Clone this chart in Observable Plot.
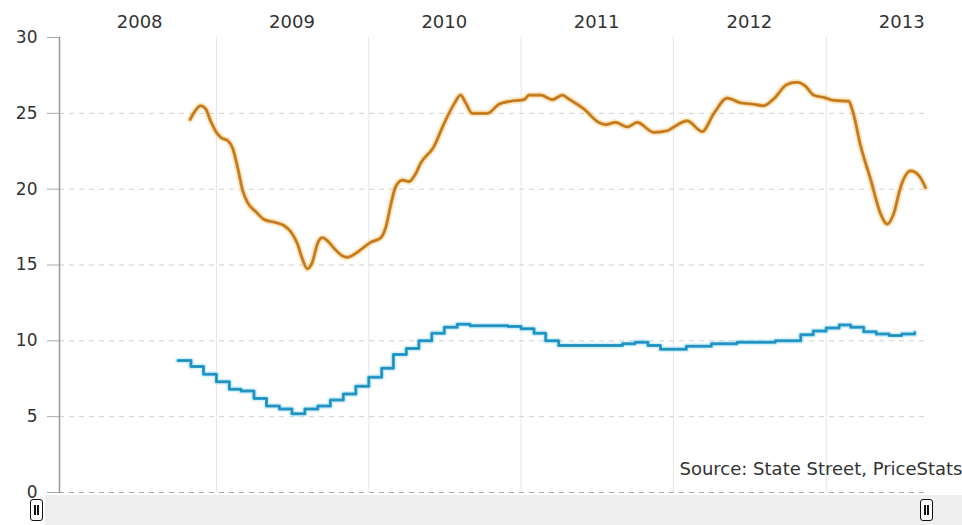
<!DOCTYPE html>
<html><head><meta charset="utf-8">
<script src="https://cdn.jsdelivr.net/npm/d3@7"></script>
<script src="https://cdn.jsdelivr.net/npm/@observablehq/plot@0.6"></script>
<style>
html,body{margin:0;padding:0;background:#fff;}
#wrap{position:relative;width:962px;height:525px;overflow:hidden;}
.bar{position:absolute;left:45px;top:495px;width:917px;height:30px;background:#eeeeee;}
.handle{position:absolute;width:11px;height:20px;border:1.6px solid #111;border-radius:3px;background:#fff;}
.handle::before,.handle::after{content:"";position:absolute;top:5px;height:10px;width:1.5px;background:#111;}
.handle::before{left:3px}.handle::after{left:6.2px}
</style></head><body><div id="wrap"></div>
<script>
// PriceStats inflation (orange), % year on year
const orangeDates = ["2008-10-30","2008-11-12","2008-11-24","2008-12-06","2008-12-18","2009-01-01","2009-01-12","2009-01-28","2009-02-09","2009-02-21","2009-03-05","2009-03-17","2009-04-06","2009-04-25","2009-05-23","2009-06-12","2009-06-28","2009-07-14","2009-07-26","2009-08-07","2009-08-19","2009-08-31","2009-09-12","2009-09-24","2009-10-10","2009-10-30","2009-11-11","2009-11-27","2009-12-17","2010-01-06","2010-01-30","2010-02-11","2010-02-23","2010-03-07","2010-03-23","2010-04-07","2010-04-23","2010-05-05","2010-06-06","2010-06-30","2010-07-24","2010-08-09","2010-08-21","2010-09-06","2010-10-12","2010-11-09","2010-12-07","2011-01-08","2011-01-20","2011-02-17","2011-03-17","2011-04-10","2011-04-25","2011-05-31","2011-07-06","2011-07-22","2011-08-15","2011-09-12","2011-10-06","2011-11-15","2011-12-17","2012-01-02","2012-02-03","2012-03-10","2012-04-07","2012-05-09","2012-06-09","2012-07-11","2012-08-04","2012-08-28","2012-09-29","2012-10-23","2012-11-12","2012-12-02","2012-12-26","2013-01-20","2013-02-24","2013-03-05","2013-03-25","2013-04-18","2013-05-11","2013-05-27","2013-06-12","2013-06-28","2013-07-22","2013-08-11","2013-08-27"];
const orangeValues = [24.6,25.2,25.5,25.3,24.5,23.75,23.4,23.2,22.7,21.4,19.9,19.1,18.5,18.0,17.8,17.6,17.2,16.4,15.4,14.75,15.2,16.4,16.8,16.6,16.1,15.6,15.5,15.7,16.1,16.5,16.8,17.5,19.0,20.2,20.6,20.5,21.0,21.7,22.8,24.3,25.6,26.2,25.7,25.0,25.0,25.6,25.8,25.9,26.2,26.2,25.9,26.2,25.95,25.3,24.4,24.25,24.4,24.1,24.4,23.75,23.85,24.1,24.5,23.8,25.0,26.0,25.7,25.6,25.5,25.95,26.9,27.05,26.8,26.2,26.05,25.85,25.8,25.2,22.8,20.6,18.4,17.7,18.4,20.1,21.2,20.9,20.1];

// Official inflation (blue), monthly, % year on year
const blueMonths = ["2008-10","2008-11","2008-12","2009-01","2009-02","2009-03","2009-04","2009-05","2009-06","2009-07","2009-08","2009-09","2009-10","2009-11","2009-12","2010-01","2010-02","2010-03","2010-04","2010-05","2010-06","2010-07","2010-08","2010-09","2010-10","2010-11","2010-12","2011-01","2011-02","2011-03","2011-04","2011-05","2011-06","2011-07","2011-08","2011-09","2011-10","2011-11","2011-12","2012-01","2012-02","2012-03","2012-04","2012-05","2012-06","2012-07","2012-08","2012-09","2012-10","2012-11","2012-12","2013-01","2013-02","2013-03","2013-04","2013-05","2013-06","2013-07","2013-08"];
const blueValues = [8.7,8.3,7.8,7.3,6.8,6.7,6.2,5.7,5.5,5.2,5.5,5.7,6.1,6.5,7.0,7.6,8.2,9.1,9.5,10.0,10.5,10.9,11.1,11.0,11.0,11.0,10.95,10.8,10.5,10.0,9.7,9.7,9.7,9.7,9.7,9.8,9.9,9.7,9.45,9.45,9.65,9.65,9.8,9.8,9.9,9.9,9.9,10.0,10.0,10.4,10.65,10.85,11.05,10.9,10.6,10.45,10.35,10.45,10.55];

const yearLabels = [2008, 2009, 2010, 2011, 2012, 2013];
const yearGrid = [2009, 2010, 2011, 2012, 2013];
const yTicks = [0, 5, 10, 15, 20, 25, 30];
const yGrid = [5, 10, 15, 20, 25];
const sourceText = "Source: State Street, PriceStats";

const orange = orangeDates.map((d, i) => ({date: new Date(d), value: orangeValues[i]}));
const blue = blueMonths.map((m, i) => ({date: new Date(m + "-01"), value: blueValues[i]}));
const labelDates = yearLabels.map(y => new Date(Date.UTC(y, 6, 1)));
const gridDates = yearGrid.map(y => new Date(Date.UTC(y, 0, 1)));

const font = "'DejaVu Sans', Verdana, sans-serif";
const chart = Plot.plot({
  width: 962,
  height: 525,
  marginTop: 37,
  marginBottom: 33,
  marginLeft: 59,
  marginRight: 37,
  style: {fontFamily: font, fontSize: "17px", color: "#333", background: "#fff", overflow: "visible"},
  x: {type: "utc", domain: [new Date("2007-12-22"), new Date("2013-08-27")]},
  y: {domain: [0, 30]},
  marks: [
    Plot.ruleX(gridDates, {stroke: "#e6e6e6", strokeWidth: 1}),
    Plot.ruleY(yGrid, {stroke: "#cfcfcf", strokeDasharray: "5,5"}),
    Plot.ruleY([0], {stroke: "#a8a8a8", strokeDasharray: "5,5"}),
    Plot.frame({anchor: "left", stroke: "#999", strokeWidth: 1.5}),
    Plot.axisY({ticks: yTicks, tickSize: 12, tickPadding: 10, stroke: "#aaa", fill: "#333", fontSize: 17, label: null}),
    Plot.axisX({anchor: "top", ticks: labelDates, tickFormat: d => String(d.getUTCFullYear()), tickSize: 0, tickPadding: 10, fill: "#333", fontSize: 18, label: null}),
    Plot.line(blue, {x: "date", y: "value", curve: "step-after", stroke: "#9fdcf3", strokeWidth: 6, strokeOpacity: 0.45}),
    Plot.line(blue, {x: "date", y: "value", curve: "step-after", stroke: "#2ea3d3", strokeWidth: 3}),
    Plot.line(blue, {x: "date", y: "value", curve: "step-after", stroke: "#1b7ea6", strokeWidth: 1.2, strokeOpacity: 0.7}),
    Plot.line(orange, {x: "date", y: "value", curve: "monotone-x", stroke: "#f6cf8a", strokeWidth: 7, strokeOpacity: 0.4}),
    Plot.line(orange, {x: "date", y: "value", curve: "monotone-x", stroke: "#d88c2a", strokeWidth: 3.2}),
    Plot.line(orange, {x: "date", y: "value", curve: "monotone-x", stroke: "#ad6c1c", strokeWidth: 1.3, strokeOpacity: 0.7}),
    Plot.text([sourceText], {frameAnchor: "bottom-right", dx: 37, dy: -18, textAnchor: "end", fontSize: 18, fill: "#333", fontFamily: font})
  ]
});
const wrap = document.getElementById("wrap");
wrap.appendChild(chart);
const bar = document.createElement("div"); bar.className = "bar"; wrap.appendChild(bar);
for (const left of [30, 920]) {
  const h = document.createElement("div"); h.className = "handle";
  h.style.left = left + "px"; h.style.top = "499px";
  wrap.appendChild(h);
}
</script>
</body></html>
